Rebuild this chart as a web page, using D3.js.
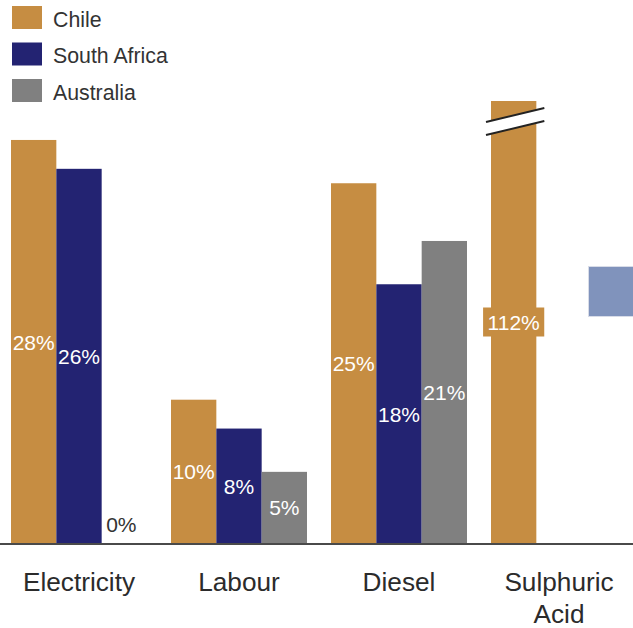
<!DOCTYPE html>
<html>
<head>
<meta charset="utf-8">
<script src="https://cdn.jsdelivr.net/npm/d3@7"></script>
<style>
  html, body { margin: 0; padding: 0; background: #fff; }
  svg { display: block; font-family: "Liberation Sans", Arial, Helvetica, sans-serif; }
</style>
</head>
<body>
<svg id="chart" width="633" height="628"></svg>
<script>
// Cost categories and the share for each country (percent)
const categories = ["Electricity", "Labour", "Diesel", "Sulphuric Acid"];
const seriesNames = ["Chile", "South Africa", "Australia"];
const chileValues = [28, 10, 25, 112];
const southAfricaValues = [26, 8, 18, null];
const australiaValues = [0, 5, 21, null];
const seriesColors = ["#c68d42", "#232372", "#808080"];
// values above this are drawn as a broken bar
const axisMax = 30.7;

const seriesValues = [chileValues, southAfricaValues, australiaValues];

const W = 633, H = 628;
const baseY = 544, topY = 101;

const svg = d3.select("#chart");

const x0 = d3.scaleBand()
  .domain(categories)
  .range([-1, 639])
  .paddingInner(0.15)
  .paddingOuter(0.075);

const x1 = d3.scaleBand()
  .domain(seriesNames)
  .range([0, x0.bandwidth()]);

const y = d3.scaleLinear()
  .domain([0, axisMax])
  .range([baseY, topY])
  .clamp(true);

const color = d3.scaleOrdinal().domain(seriesNames).range(seriesColors);

const rows = [];
categories.forEach((c, ci) => {
  seriesNames.forEach((s, si) => {
    const v = seriesValues[si][ci];
    if (v !== null && v !== undefined) rows.push({ category: c, series: s, value: v });
  });
});

// bars
const g = svg.append("g");
g.selectAll("rect.bar")
  .data(rows)
  .join("rect")
  .attr("class", "bar")
  .attr("x", d => x0(d.category) + x1(d.series))
  .attr("y", d => y(d.value))
  .attr("width", x1.bandwidth())
  .attr("height", d => y(0) - y(d.value))
  .attr("fill", d => color(d.series));

// break marks on bars that exceed the axis
const broken = rows.filter(d => d.value > axisMax);
broken.forEach(d => {
  const bx = x0(d.category) + x1(d.series);
  const bw = x1.bandwidth();
  const lx = bx - 5, rx = bx + bw + 8;
  const yTop = y(d.value);
  const upL = yTop + 21, upR = yTop + 7, gap = 13;
  g.append("polygon")
    .attr("points", [[lx, upL], [rx, upR], [rx, upR + gap], [lx, upL + gap]].map(p => p.join(",")).join(" "))
    .attr("fill", "#fff");
  [0, gap].forEach(off => {
    g.append("line")
      .attr("x1", lx).attr("y1", upL + off)
      .attr("x2", rx).attr("y2", upR + off)
      .attr("stroke", "#222").attr("stroke-width", 2);
  });
});

// baseline
svg.append("line")
  .attr("x1", 0).attr("x2", W)
  .attr("y1", baseY).attr("y2", baseY)
  .attr("stroke", "#4a4a4a").attr("stroke-width", 2);

// value labels
const labelFont = 21;
rows.forEach(d => {
  const cx = x0(d.category) + x1(d.series) + x1.bandwidth() / 2;
  const h = y(0) - y(d.value);
  const inside = h > 30;
  const cy = inside ? (y(d.value) + y(0)) / 2 : y(0) - 20;
  const txt = d.value + "%";
  const t = g.append("text")
    .attr("x", inside ? cx : cx - 3).attr("y", cy)
    .attr("dy", "0.36em")
    .attr("text-anchor", "middle")
    .attr("font-size", labelFont)
    .attr("fill", inside ? "#fff" : "#333")
    .text(txt);
  if (d.value > axisMax) {
    // broken bars get a backing box so the label reads over the break
    const bb = t.node().getBBox();
    g.insert("rect", () => t.node())
      .attr("x", bb.x - 4.5).attr("y", cy - 15)
      .attr("width", bb.width + 9).attr("height", 29)
      .attr("fill", color(d.series));
  }
});

// category labels
const catFont = 26.2;
categories.forEach(c => {
  const words = c.split(" ");
  const t = svg.append("text")
    .attr("text-anchor", "middle")
    .attr("font-size", catFont)
    .attr("fill", "#2b2b2b");
  words.forEach((w, i) => {
    t.append("tspan")
      .attr("x", x0(c) + x0.bandwidth() / 2)
      .attr("y", 591 + i * 32)
      .text(w);
  });
});

// legend
const legend = svg.append("g");
seriesNames.forEach((s, i) => {
  const ly = 6 + i * 36.5;
  legend.append("rect")
    .attr("x", 12).attr("y", ly)
    .attr("width", 30).attr("height", 23)
    .attr("fill", color(s));
  legend.append("text")
    .attr("x", 53).attr("y", ly + 20.5)
    .attr("font-size", 21.3)
    .attr("fill", "#333")
    .text(s);
});

// side key block at the right edge
svg.append("rect")
  .attr("x", 588.5).attr("y", 266.5)
  .attr("width", 50).attr("height", 50)
  .attr("fill", "#8093bc")
  .attr("stroke", "#d8dce8").attr("stroke-width", 1);
</script>
</body>
</html>
